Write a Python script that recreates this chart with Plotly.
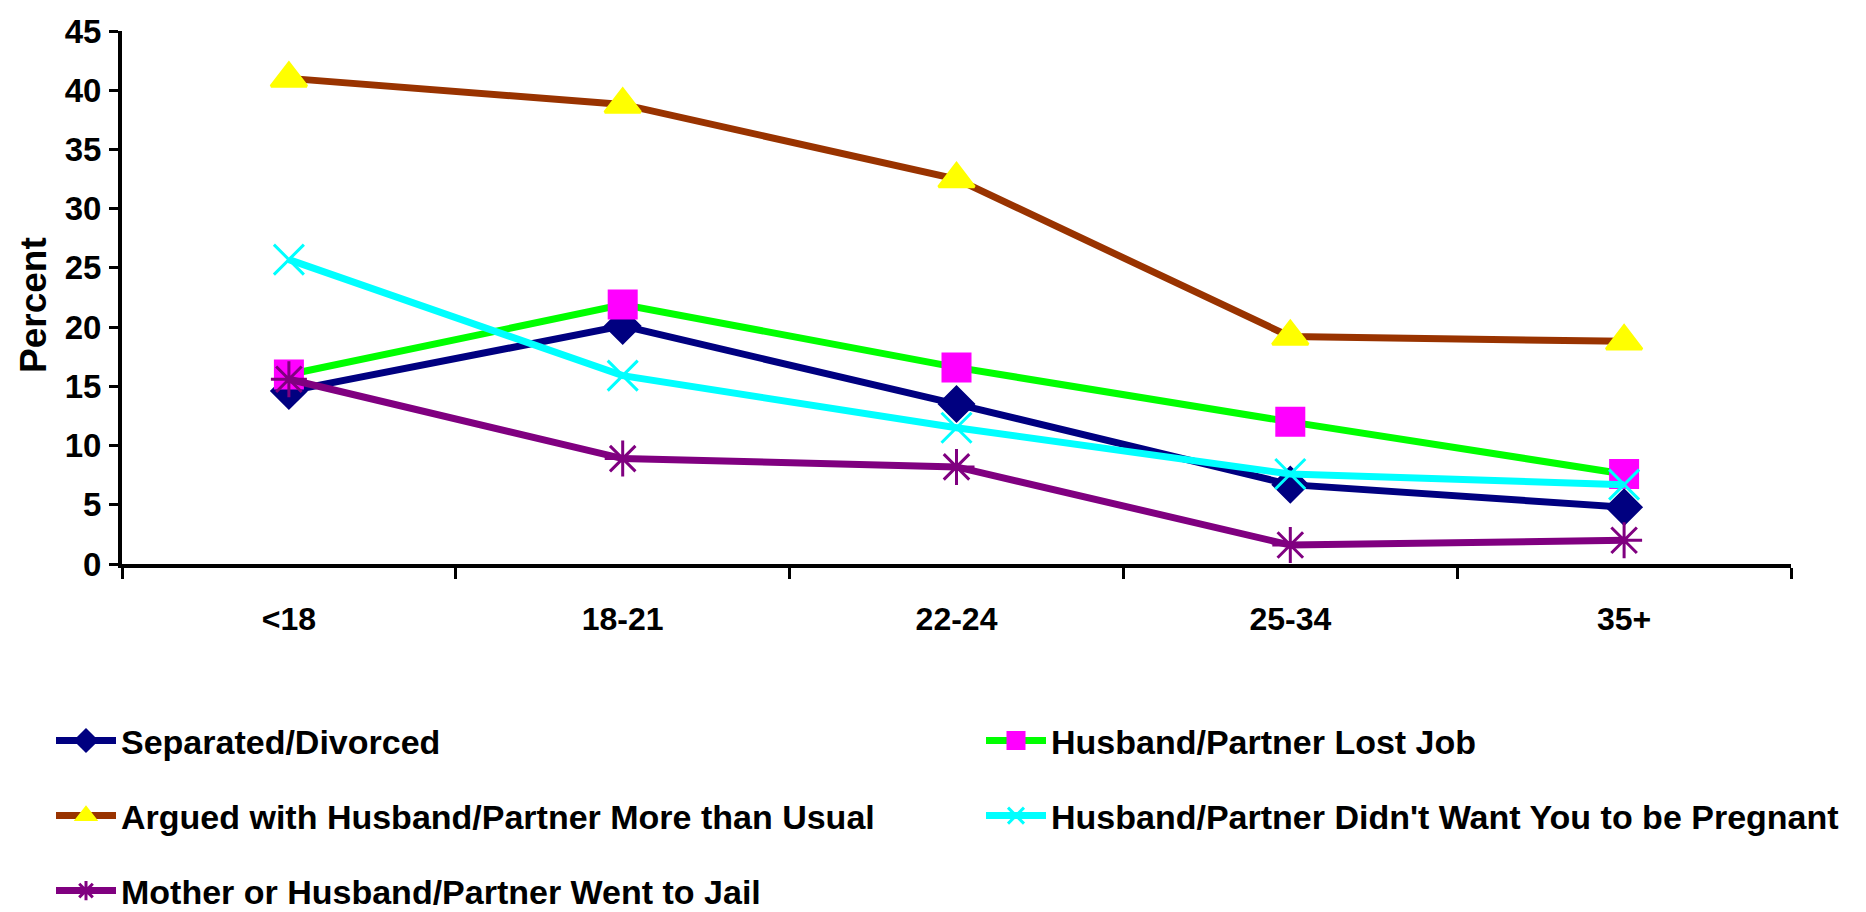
import plotly.graph_objects as go

age_groups = ["<18", "18-21", "22-24", "25-34", "35+"]

separated = [14.6, 20.1, 13.5, 6.7, 4.8]
lost_job = [16.0, 21.9, 16.6, 12.0, 7.6]
argued = [41.0, 38.8, 32.5, 19.2, 18.8]
didnt_want = [25.7, 15.9, 11.5, 7.6, 6.7]
jail = [15.6, 8.9, 8.2, 1.6, 2.0]

series_names = [
    "Separated/Divorced",
    "Husband/Partner Lost Job",
    "Argued with Husband/Partner More than Usual",
    "Husband/Partner Didn't Want You to be Pregnant",
    "Mother or Husband/Partner Went to Jail",
]

FONT = "Liberation Sans, Arial, sans-serif"

fig = go.Figure()

# (values, line colour, marker symbol, marker colour, marker size, legend id)
styles = [
    (separated, "#000080", "diamond", "#000080", 26, "legend"),
    (lost_job, "#00FF00", "square", "#FF00FF", 27, "legend2"),
    (argued, "#993300", "triangle-up", "#FFFF00", 31, "legend3"),
    (didnt_want, "#00FFFF", "x-thin-open", "#00FFFF", 30, "legend4"),
    (jail, "#800080", "asterisk-open", "#800080", 30, "legend5"),
]

for name, (vals, lc, sym, mc, ms, lg) in zip(series_names, styles):
    fig.add_trace(
        go.Scatter(
            x=age_groups,
            y=vals,
            name=name,
            mode="lines+markers",
            line=dict(color=lc, width=7),
            marker=dict(symbol=sym, color=mc, size=ms, line=dict(color=mc, width=3)),
            legend=lg,
        )
    )

# one legend per entry so the two-column layout lines up
legend_pos = {
    "legend": (43, 733),
    "legend2": (973, 733),
    "legend3": (43, 808),
    "legend4": (973, 808),
    "legend5": (43, 883),
}
legend_font = dict(family=FONT, size=34, color="black", weight="bold")
legends = {}
for key, (px, py) in legend_pos.items():
    legends[key] = dict(
        xref="container",
        yref="container",
        x=px / 1866,
        y=1 - py / 912,
        xanchor="left",
        yanchor="middle",
        font=legend_font,
        itemwidth=60,
        bgcolor="rgba(0,0,0,0)",
    )

fig.update_layout(
    width=1866,
    height=912,
    paper_bgcolor="white",
    plot_bgcolor="white",
    margin=dict(l=114, r=83, t=23, b=356, autoexpand=False),
    showlegend=True,
    **legends,
)

fig.add_annotation(
    text="Percent",
    xref="paper",
    yref="paper",
    x=(25 - 114) / 1669,
    y=(556 - 297) / 533,
    xanchor="center",
    yanchor="middle",
    textangle=-90,
    showarrow=False,
    font=dict(family=FONT, size=37, color="black", weight="bold"),
)

fig.update_xaxes(
    type="category",
    range=[-0.5, 4.5],
    showline=True,
    linecolor="black",
    linewidth=4,
    ticks="outside",
    tickson="boundaries",
    ticklen=11,
    tickwidth=3,
    tickcolor="black",
    showgrid=False,
    zeroline=False,
    tickfont=dict(family=FONT, size=32, color="black", weight="bold"),
    ticklabelstandoff=24,
)

fig.update_yaxes(
    range=[0, 45],
    dtick=5,
    showline=True,
    linecolor="black",
    linewidth=4,
    ticks="outside",
    ticklen=9,
    tickwidth=3,
    tickcolor="black",
    showgrid=False,
    zeroline=False,
    tickfont=dict(family=FONT, size=33, color="black", weight="bold"),
    ticklabelstandoff=1,
)

fig.write_html("out.html")
